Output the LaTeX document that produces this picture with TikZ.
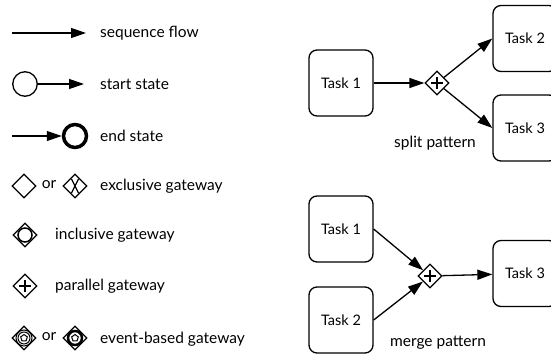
\documentclass[tikz,border=0pt]{standalone}
\usepackage{fontspec}
\setmainfont{Lato}
\usepackage{tikz}
\usetikzlibrary{arrows.meta,calc,shapes.geometric}
\tikzset{
	task/.style={draw, line width=1.3pt, rounded corners=8pt, minimum width=64pt, minimum height=66pt, font=\fontsize{14.5}{17}\selectfont},
	gateway/.style={draw, diamond, line width=1.3pt, minimum width=24pt, minimum height=24pt, inner sep=0pt},
	seqflow/.style={line width=1.3pt, -{Triangle[length=15pt,width=10pt]}},
	lbl/.style={font=\fontsize{15.5}{18}\selectfont, inner sep=0pt},
}
\def\plussign(#1){\draw[line width=1.2pt, shift={(#1)}] (-6,0) -- (6,0) (0,-6) -- (0,6);}
\def\pentamark(#1){\draw[line width=1pt, shift={(#1)}] (-90:3.5) -- (-18:3.5) -- (54:3.5) -- (126:3.5) -- (198:3.5) -- cycle;}

\begin{document}
\begin{tikzpicture}[x=1pt, y=-1pt]
			%%%%% START %%%%%
			\useasboundingbox (0,0) rectangle (551,356);
			\clip (0,0) rectangle (551,356);
			
			% legend
			\coordinate (sf-a) at (12,33);
			\coordinate (sf-b) at (86,33);
			\draw[seqflow] (sf-a) -- (sf-b);
			\node[lbl, anchor=west] (sf-lbl) at (100,33) {sequence flow};
			
			\node[draw, circle, line width=1.3pt, minimum size=24.5pt, inner sep=0pt] (start) at (25,84) {};
			\coordinate (st-b) at (84,84);
			\draw[seqflow] (start) -- (st-b);
			\node[lbl, anchor=west] (st-lbl) at (100,84) {start state};
			
			\coordinate (en-a) at (12,136);
			\node[draw, circle, line width=3.5pt, minimum size=23pt, inner sep=0pt] (end) at (75,136) {};
			\draw[seqflow] (en-a) -- (end);
			\node[lbl, anchor=west] (en-lbl) at (100,136) {end state};
			
			\node[gateway] (xor-a) at (24,186) {};
			\node[lbl] (xor-or) at (49,185) {or};
			\node[gateway] (xor-b) at (75,186) {};
			\draw[line width=1.2pt] ($(xor-b)+(-3.5,-7)$) -- ($(xor-b)+(3.5,7)$) ($(xor-b)+(3.5,-7)$) -- ($(xor-b)+(-3.5,7)$);
			\node[lbl, anchor=west] (xor-lbl) at (100,186) {exclusive gateway};
			
			\node[gateway] (or-gw) at (25,235) {};
			\draw[line width=1.5pt] (or-gw) circle (7);
			\node[lbl, anchor=west] (or-lbl) at (55,235) {inclusive gateway};
			
			\node[gateway] (and-gw) at (25,286) {};
			\plussign(and-gw)
			\node[lbl, anchor=west] (and-lbl) at (55,286) {parallel gateway};
			
			\node[gateway] (ev-a) at (24,338) {};
			\draw[line width=1pt] (ev-a) circle (8) (ev-a) circle (6);
			\pentamark(ev-a)
			\node[lbl] (ev-or) at (49,337) {or};
			\node[gateway] (ev-b) at (75,338) {};
			\draw[line width=2.5pt] (ev-b) circle (7);
			\pentamark(ev-b)
			\node[lbl, anchor=west] (ev-lbl) at (100,339) {event-based gateway};
			
			% split pattern
			\node[task] (s1) at (341,83) {Task 1};
			\node[gateway] (sg) at (437,83) {};
			\plussign(sg)
			\node[task] (s2) at (525,38.5) {Task 2};
			\node[task] (s3) at (525,128) {Task 3};
			\draw[seqflow] (s1) -- (sg);
			\draw[seqflow] (sg) -- (s2.west);
			\draw[seqflow] (sg) -- (s3.west);
			\node[lbl] (split-lbl) at (435,143) {split pattern};
			
			% merge pattern
			\node[task] (m1) at (341,229) {Task 1};
			\node[task] (m2) at (341,320) {Task 2};
			\node[gateway] (mg) at (430,276) {};
			\plussign(mg)
			\node[task] (m3) at (525,273.5) {Task 3};
			\draw[seqflow] (m1.east) -- (mg);
			\draw[seqflow] (m2.east) -- (mg);
			\draw[seqflow] (mg) -- (m3);
			\node[lbl] (merge-lbl) at (438,343) {merge pattern};
			
			%%%%% END %%%%%
\end{tikzpicture}
\end{document}
